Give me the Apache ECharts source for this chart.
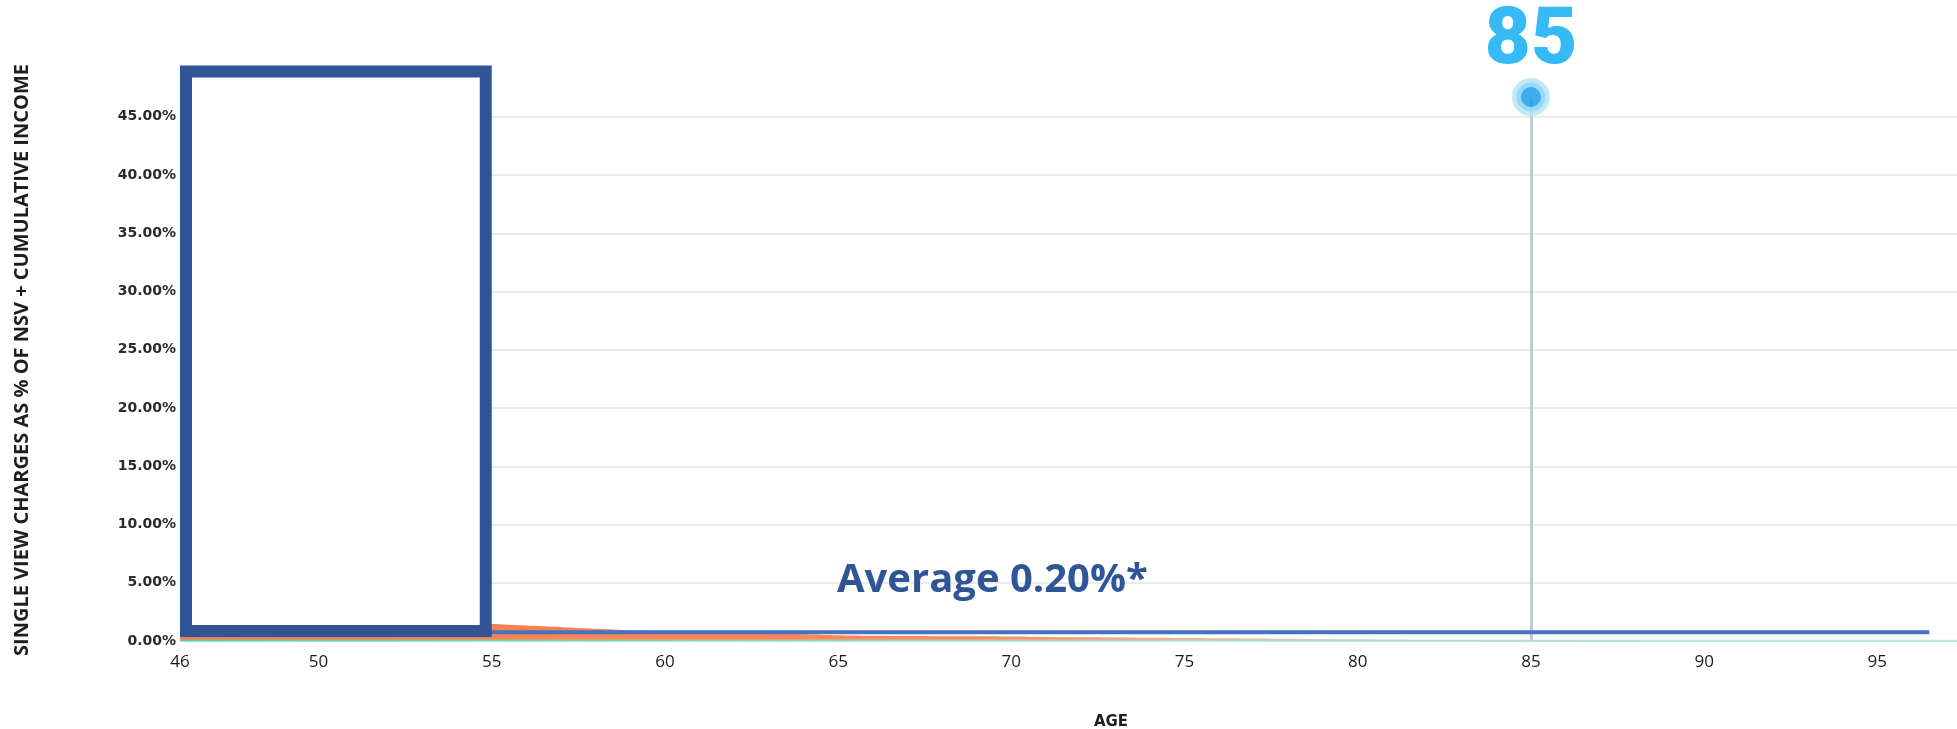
<!DOCTYPE html>
<html>
<head>
<meta charset="utf-8">
<script src="https://cdn.jsdelivr.net/npm/echarts@6/dist/echarts.min.js"></script>
<style>
  html, body { margin: 0; padding: 0; background: #fff; }
  #chart { width: 1957px; height: 729px; }
</style>
</head>
<body>
<div id="chart"></div>
<script>
// Age axis labels and percentage ticks
const ageTicks = [46, 50, 55, 60, 65, 70, 75, 80, 85, 90, 95];
const pctTicks = [0, 5, 10, 15, 20, 25, 30, 35, 40, 45];

// Charges curve (orange area), % by age
const chargeAges = [46, 50, 55, 56, 57, 58, 59, 60, 61, 62, 63, 64, 65, 66, 67, 68, 69, 70, 71, 72, 73, 74, 75, 76, 77, 78, 79, 80, 81, 82, 83, 84];
const chargeVals = [1.62, 1.55, 1.46, 1.32, 1.19, 1.05, 0.92, 0.80, 0.72, 0.67, 0.63, 0.59, 0.50, 0.45, 0.43, 0.41, 0.40, 0.38, 0.35, 0.32, 0.30, 0.28, 0.26, 0.24, 0.22, 0.19, 0.16, 0.13, 0.10, 0.07, 0.04, 0.02];

// Flat charge line (blue)
const flatAges = [46, 50, 55, 60, 65, 70, 75, 80, 85, 90, 95, 96.5];
const flatVals = [0.75, 0.75, 0.75, 0.75, 0.75, 0.75, 0.75, 0.75, 0.75, 0.75, 0.75, 0.75];

// Base line (green)
const baseAges = [46, 55, 65, 75, 85, 95, 98];
const baseVals = [0.05, 0.05, 0.04, 0.04, 0.03, 0.03, 0.03];

// Highlighted age
const markerAge = 85;
const markerLevel = 46.7;

const yAxisTitle = 'SINGLE VIEW CHARGES AS % OF NSV + CUMULATIVE INCOME';
const xAxisTitle = 'AGE';
const averageText = 'Average 0.20%*';

const zip = (xs, ys) => xs.map((x, i) => [x, ys[i]]);

const chart = echarts.init(document.getElementById('chart'), null, { renderer: 'canvas' });

const option = {
  animation: false,
  backgroundColor: '#ffffff',
  grid: { left: 180, right: 0, top: 97, bottom: 88, containLabel: false },
  xAxis: {
    type: 'value',
    min: 46,
    max: 97.3,
    axisLine: { show: false },
    axisTick: { show: false, customValues: ageTicks },
    splitLine: { show: false },
    axisLabel: {
      customValues: ageTicks,
      margin: 13,
      color: '#1a1a1a',
      fontFamily: 'Open Sans',
      fontSize: 17
    }
  },
  yAxis: {
    type: 'value',
    min: 0,
    max: markerLevel,
    interval: 5,
    axisLine: { show: false },
    axisTick: { show: false, customValues: pctTicks },
    splitLine: { show: true, lineStyle: { color: '#e6e6e6', width: 1.5 } },
    axisLabel: {
      customValues: pctTicks,
      margin: 4,
      color: '#2a2a2a',
      fontFamily: 'DejaVu Sans',
      fontWeight: 'bold',
      fontSize: 14,
      formatter: v => v.toFixed(2) + '%'
    }
  },
  series: [
    {
      name: 'Charges',
      type: 'line',
      data: zip(chargeAges, chargeVals),
      showSymbol: false,
      smooth: 0.2,
      lineStyle: { width: 0 },
      z: 2,
      areaStyle: {
        opacity: 1,
        color: new echarts.graphic.LinearGradient(0, 0, 1, 0, [
          { offset: 0, color: '#ff7a48' },
          { offset: 0.6, color: '#ff8a5a' },
          { offset: 0.78, color: '#f8b08a' },
          { offset: 0.9, color: '#dccba6' },
          { offset: 1, color: 'rgba(200,230,205,0.4)' }
        ])
      }
    },
    {
      name: 'Base',
      type: 'line',
      data: zip(baseAges, baseVals),
      showSymbol: false,
      z: 3,
      lineStyle: {
        width: 2,
        color: new echarts.graphic.LinearGradient(0, 0, 1, 0, [
          { offset: 0, color: '#55d49a' },
          { offset: 0.5, color: '#a6dfc0' },
          { offset: 1, color: '#b4ecd4' }
        ])
      }
    },
    {
      name: 'Flat',
      type: 'line',
      data: zip(flatAges, flatVals),
      showSymbol: false,
      z: 5,
      lineStyle: { width: 4, color: '#4472c4' }
    },
    {
      name: 'Marker',
      type: 'scatter',
      data: [[markerAge, markerLevel]],
      symbol: 'circle',
      symbolSize: 29,
      z: 6,
      itemStyle: { color: '#0a9ae8', borderColor: '#b3e3f8', borderWidth: 9 },
      label: {
        show: true,
        position: 'top',
        distance: 6,
        offset: [0, 11],
        formatter: p => String(p.value[0]),
        color: '#03a9f4',
        fontFamily: 'Roboto',
        fontWeight: 900,
        fontSize: 80
      },
      markLine: {
        silent: true,
        symbol: 'none',
        label: { show: false },
        z: 4,
        lineStyle: { color: '#c3c9d2', width: 3, type: 'solid' },
        data: [{ xAxis: markerAge }]
      }
    }
  ]
};

chart.setOption(option);

// Frame over the early ages, the average note and the axis titles
const bw = 12;
const tl = chart.convertToPixel({ gridIndex: 0 }, [46, 49.4]);
const br = chart.convertToPixel({ gridIndex: 0 }, [55, 0.35]);

chart.setOption({
  graphic: [
    {
      type: 'rect',
      z: 100,
      shape: {
        x: tl[0] + bw / 2,
        y: tl[1] + bw / 2,
        width: br[0] - tl[0] - bw,
        height: br[1] - tl[1] - bw
      },
      style: { fill: '#ffffff', stroke: '#2f5597', lineWidth: bw }
    },
    {
      type: 'text',
      z: 100,
      x: 837,
      y: 581,
      style: {
        text: averageText,
        fill: '#2f5597',
        font: 'bold 40px "Open Sans"',
        textAlign: 'left',
        textVerticalAlign: 'middle'
      }
    },
    {
      type: 'text',
      z: 100,
      x: 22,
      y: 360,
      rotation: Math.PI / 2,
      style: {
        text: yAxisTitle,
        fill: '#1e1e1e',
        font: 'bold 20px "Open Sans"',
        textAlign: 'center',
        textVerticalAlign: 'middle'
      }
    },
    {
      type: 'text',
      z: 100,
      x: 1111,
      y: 722,
      style: {
        text: xAxisTitle,
        fill: '#1e1e1e',
        font: 'bold 15px "DejaVu Sans"',
        textAlign: 'center',
        textVerticalAlign: 'middle'
      }
    }
  ]
});
</script>
</body>
</html>
